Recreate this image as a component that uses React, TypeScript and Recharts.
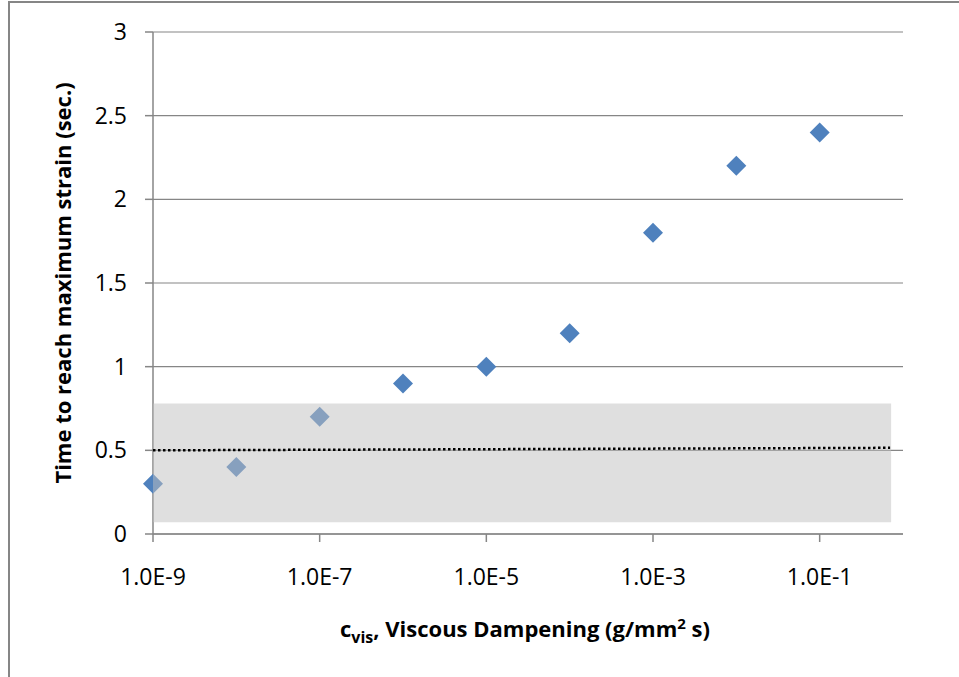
import {
  ScatterChart,
  Scatter,
  XAxis,
  YAxis,
  CartesianGrid,
  ReferenceArea,
  ReferenceLine,
} from 'recharts';

// viscous dampening c_vis (g/mm^2 s) vs time to reach max strain (sec.)
const dampening = [1e-9, 1e-8, 1e-7, 1e-6, 1e-5, 1e-4, 1e-3, 1e-2, 1e-1];
const timeToMax = [0.3, 0.4, 0.7, 0.9, 1.0, 1.2, 1.8, 2.2, 2.4];
const xTicks = [1e-9, 1e-7, 1e-5, 1e-3, 1e-1];
const yTicks = [0, 0.5, 1, 1.5, 2, 2.5, 3];

// shaded band + dotted threshold line
const bandX = [1e-9, 0.72];
const bandY = [0.07, 0.78];
const thresholdLine = [
  { x: 1e-9, y: 0.5 },
  { x: 0.7, y: 0.515 },
];

const data = dampening.map((c, i) => ({ c, t: timeToMax[i] }));

const FONT = '"Open Sans", sans-serif';
const AXIS_GREY = '#868686';

const Diamond = (props: any) => {
  const { cx, cy } = props;
  const r = 10;
  return (
    <polygon
      points={`${cx},${cy - r} ${cx + r},${cy} ${cx},${cy + r} ${cx - r},${cy}`}
      fill="#4F81BD"
    />
  );
};

const fmtExp = (v: number) => v.toExponential(1).replace('e', 'E');

export default function App() {
  return (
    <div style={{ position: 'absolute', left: 0, top: 0, width: 959, height: 677, background: '#fff' }}>
      <div
        style={{
          position: 'absolute',
          left: 8,
          top: 1,
          width: 960,
          height: 674,
          borderLeft: '2px solid #868686',
          borderTop: '2px solid #868686',
          borderBottom: '1px solid #ececec',
          pointerEvents: 'none',
        }}
      />
      <ScatterChart
        width={959}
        height={677}
        margin={{ top: 32, right: 56, bottom: 83, left: 0 }}
        style={{ fontFamily: FONT }}
      >
        <CartesianGrid vertical={false} stroke={AXIS_GREY} strokeWidth={1.2} />
        <XAxis
          type="number"
          dataKey="c"
          scale="log"
          domain={[1e-9, 1]}
          ticks={xTicks}
          tickFormatter={fmtExp}
          height={60}
          tickSize={8}
          tickMargin={27}
          stroke={AXIS_GREY}
          strokeWidth={1.5}
          tick={{ fill: '#000', fontSize: 23, fontFamily: FONT }}
          label={{
            content: () => (
              <text x={525} y={637} textAnchor="middle" fontSize={22} fontWeight="bold" fontFamily={FONT} fill="#000">
                <tspan>c</tspan>
                <tspan fontSize={16} dy={6}>vis</tspan>
                <tspan dy={-6}>, Viscous Dampening (g/mm</tspan>
                <tspan fontSize={15} dy={-8}>2</tspan>
                <tspan dy={8}> s)</tspan>
              </text>
            ),
          }}
        />
        <YAxis
          type="number"
          dataKey="t"
          domain={[0, 3]}
          ticks={yTicks}
          width={153}
          tickSize={8}
          tickMargin={18}
          stroke={AXIS_GREY}
          strokeWidth={1.5}
          tick={{ fill: '#000', fontSize: 23, fontFamily: FONT }}
          label={{
            content: () => (
              <text
                x={62}
                y={283}
                transform="rotate(-90 62 283)"
                textAnchor="middle"
                dominantBaseline="central"
                fontSize={22}
                fontWeight="bold"
                fontFamily={FONT}
                fill="#000"
              >
                Time to reach maximum strain (sec.)
              </text>
            ),
          }}
        />
        <Scatter data={data} shape={<Diamond />} isAnimationActive={false} />
        <ReferenceArea
          x1={bandX[0]}
          x2={bandX[1]}
          y1={bandY[0]}
          y2={bandY[1]}
          fill="#BFBFBF"
          fillOpacity={0.5}
          stroke="none"
          ifOverflow="visible"
          {...({ zIndex: 700 } as any)}
        />
        <ReferenceLine
          segment={thresholdLine}
          stroke="#000"
          strokeWidth={2.5}
          strokeDasharray="2.5 2.5"
          ifOverflow="visible"
          {...({ zIndex: 800 } as any)}
        />
      </ScatterChart>
    </div>
  );
}
